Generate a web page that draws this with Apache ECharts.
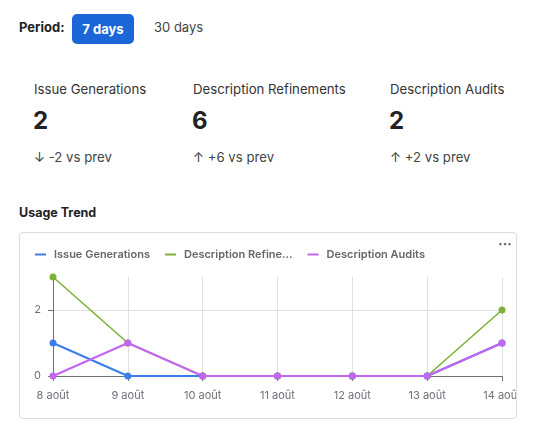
<!DOCTYPE html>
<html>
<head>
<meta charset="utf-8">
<script src="https://cdn.jsdelivr.net/npm/echarts@6/dist/echarts.min.js"></script>
<style>
  html, body { margin: 0; padding: 0; background: #fff; width: 537px; height: 443px; overflow: hidden; font-family: Inter, "Noto Sans", sans-serif; }
  .t { position: absolute; white-space: nowrap; line-height: 1; }
  #card { position: absolute; left: 19px; top: 232px; width: 496px; height: 185px; border: 1px solid #dcdcdc; border-radius: 4px; }
  #chart { position: absolute; left: 0; top: 0; width: 496px; height: 185px; }
  #btn { position: absolute; left: 72px; top: 14px; width: 62px; height: 30px; border-radius: 5px; background: #1b67d8; color: #fff; font-weight: 700; font-size: 13px; line-height: 30px; text-align: center; }
</style>
</head>
<body>
<div class="t" style="left:19px;top:21px;font-size:13px;font-weight:700;color:#222;">Period:</div>
<div id="btn">7 days</div>
<div class="t" style="left:154px;top:21px;font-size:13px;color:#444;">30 days</div>

<div class="t" style="left:34px;top:83px;font-size:13.2px;color:#333;">Issue Generations</div>
<div class="t" style="left:193px;top:83px;font-size:13.2px;color:#333;">Description Refinements</div>
<div class="t" style="left:390px;top:83px;font-size:13.2px;color:#333;">Description Audits</div>

<div class="t" style="left:33px;top:109px;font-size:24px;font-weight:700;color:#222;">2</div>
<div class="t" style="left:192px;top:109px;font-size:24px;font-weight:700;color:#222;">6</div>
<div class="t" style="left:389px;top:109px;font-size:24px;font-weight:700;color:#222;">2</div>

<div class="t" style="left:34px;top:151px;font-size:13.2px;color:#444;">↓ -2 vs prev</div>
<div class="t" style="left:193px;top:151px;font-size:13.2px;color:#444;">↑ +6 vs prev</div>
<div class="t" style="left:390px;top:151px;font-size:13.2px;color:#444;">↑ +2 vs prev</div>

<div class="t" style="left:19px;top:207px;font-size:12.5px;font-weight:700;color:#222;">Usage Trend</div>

<div id="card">
  <div id="chart"></div>
  <div class="t" style="left:478px;top:4px;font-size:14px;font-weight:700;color:#666;">···</div>
</div>

<script>
const categories = ['8 août', '9 août', '10 août', '11 août', '12 août', '13 août', '14 août'];
const issueGenerations = [1, 0, 0, 0, 0, 0, 1];
const descriptionRefinements = [3, 1, 0, 0, 0, 0, 2];
const descriptionAudits = [0, 1, 0, 0, 0, 0, 1];
const seriesNames = ['Issue Generations', 'Description Refinements', 'Description Audits'];
const colors = ['#3b7ee9', '#7cb236', '#c266f0'];

const chart = echarts.init(document.getElementById('chart'), null, { renderer: 'canvas' });
const axisGray = '#6e7079';
chart.setOption({
  animation: false,
  color: colors,
  textStyle: { fontFamily: 'Inter, "Noto Sans", sans-serif' },
  legend: {
    left: 10,
    top: 11,
    itemGap: 15,
    icon: 'rect',
    itemWidth: 11,
    itemHeight: 2,
    textStyle: { fontSize: 11, fontWeight: 600, color: '#666', padding: [0, 0, 0, 3] },
    data: [
      { name: seriesNames[0] },
      { name: seriesNames[1], textStyle: { width: 116, overflow: 'truncate', ellipsis: '...', padding: [0, 6, 0, 3] } },
      { name: seriesNames[2] }
    ]
  },
  grid: { left: 33, right: 14, top: 44, bottom: 42, containLabel: false, outerBoundsMode: 'none' },
  xAxis: {
    type: 'category',
    data: categories,
    boundaryGap: false,
    axisLine: { show: true, lineStyle: { color: axisGray } },
    axisTick: { show: true, length: 5, lineStyle: { color: axisGray } },
    axisLabel: { color: axisGray, fontSize: 11, margin: 14 },
    splitLine: { show: true, lineStyle: { color: '#e0e0e0' } }
  },
  yAxis: {
    type: 'value',
    min: 0,
    max: 3,
    interval: 2,
    axisLine: { show: true, lineStyle: { color: axisGray } },
    axisTick: { show: true, length: 5, lineStyle: { color: axisGray } },
    axisLabel: { color: axisGray, fontSize: 11, margin: 12, showMaxLabel: false },
    splitLine: { show: true, showMaxLine: false, lineStyle: { color: '#e0e0e0' } }
  },
  series: [
    { name: seriesNames[0], type: 'line', data: issueGenerations, symbol: 'circle', symbolSize: 7, lineStyle: { width: 2 } },
    { name: seriesNames[1], type: 'line', data: descriptionRefinements, symbol: 'circle', symbolSize: 7, lineStyle: { width: 1.6 } },
    { name: seriesNames[2], type: 'line', data: descriptionAudits, symbol: 'circle', symbolSize: 7, lineStyle: { width: 2.2 } }
  ]
});
</script>
</body>
</html>
